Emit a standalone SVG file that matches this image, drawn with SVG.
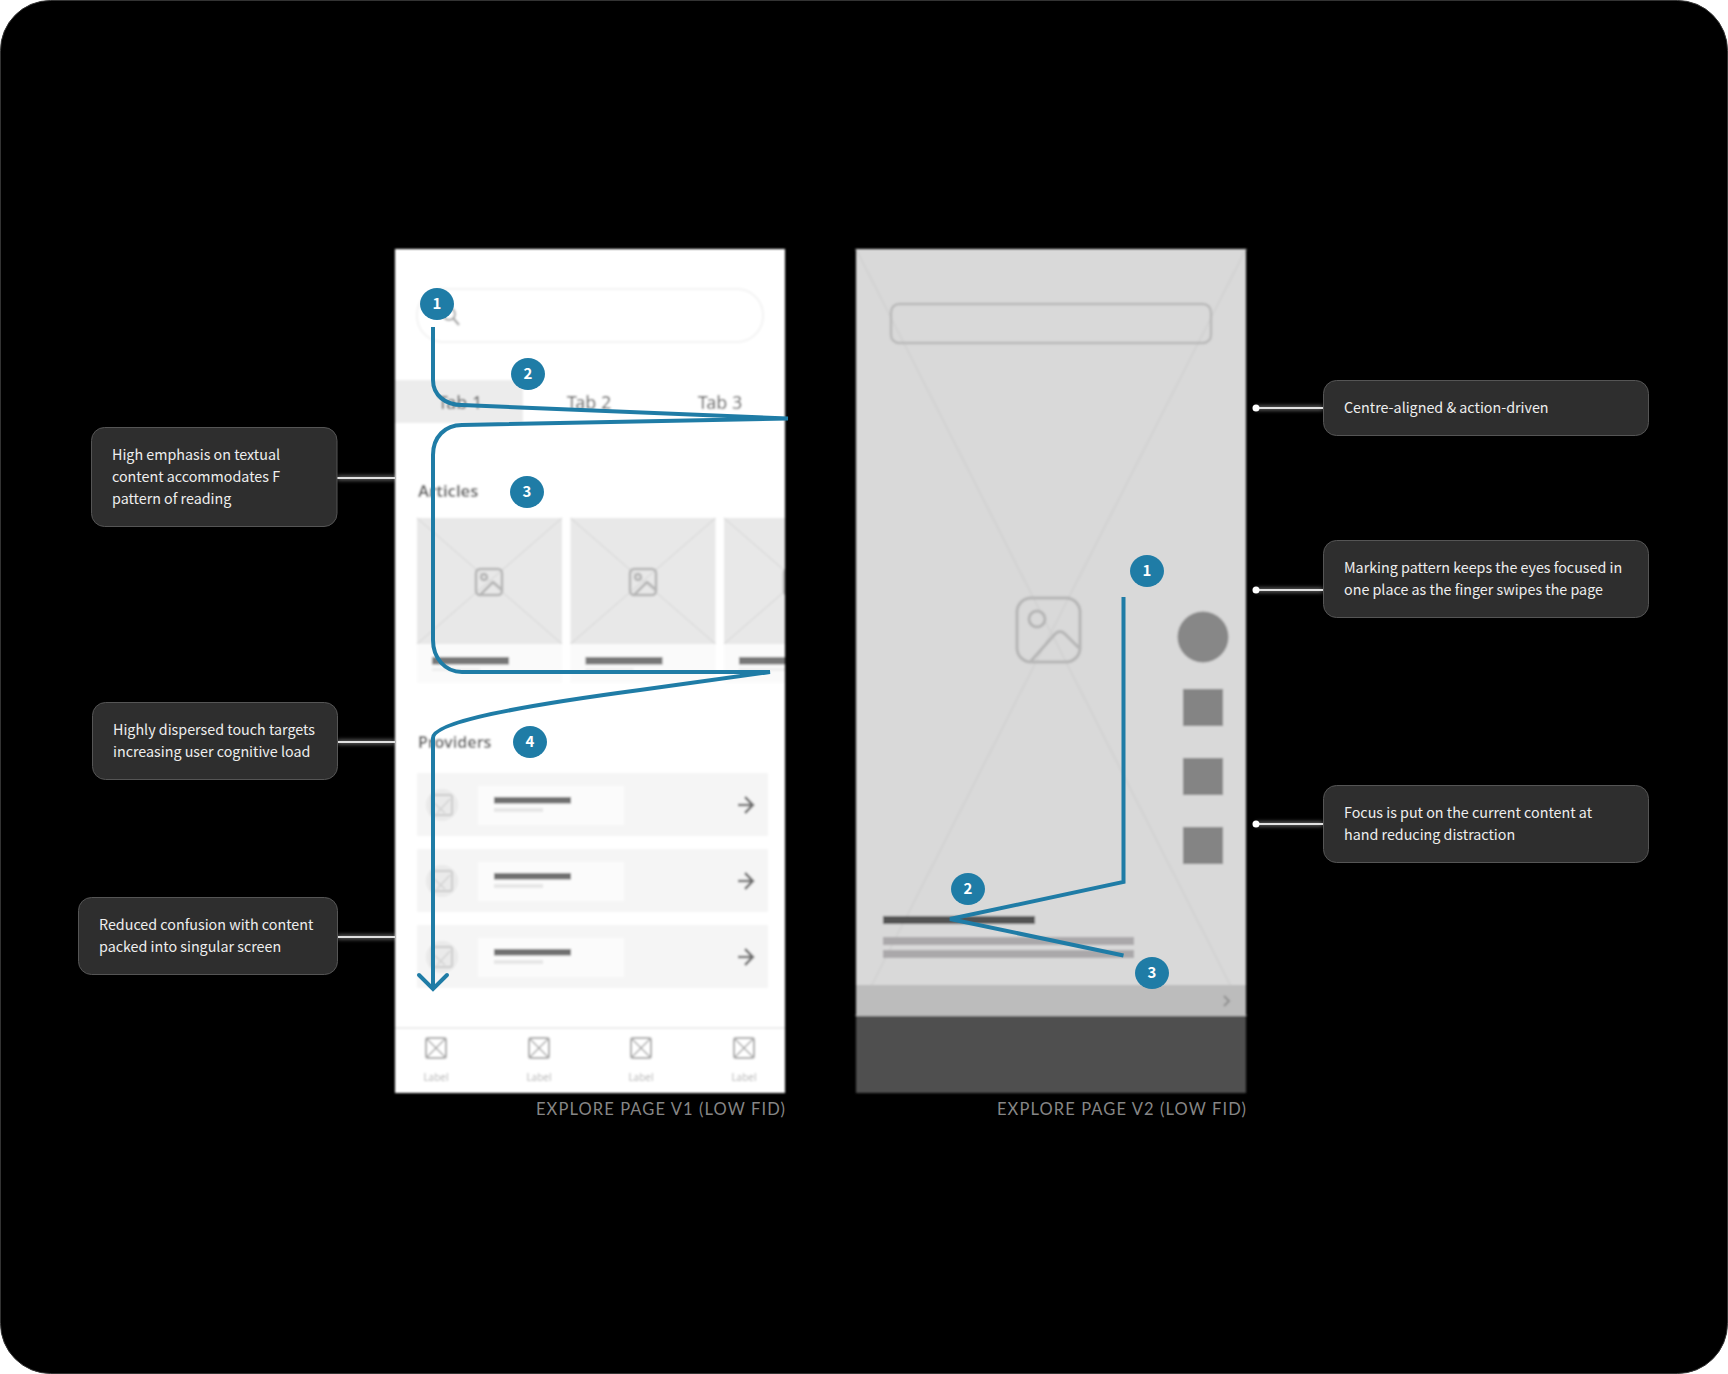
<svg xmlns="http://www.w3.org/2000/svg" xmlns:xlink="http://www.w3.org/1999/xlink" width="1728" height="1374" viewBox="0 0 1728 1374">
<style>
.note rect{fill:#2e2e2e;stroke:#555;stroke-width:1}
.note text{font:14.3px "Noto Sans CJK SC","Noto Sans",sans-serif;fill:#eee}
.badge ellipse{fill:#1f7ca6}
.badge text{font:bold 15px "Noto Sans CJK SC","Noto Sans",sans-serif;fill:#fff;text-anchor:middle}
.flow{fill:none;stroke:#1f7ca6;stroke-width:4}
.cap{font:16.5px Lato,"Noto Sans",sans-serif;fill:#868686;letter-spacing:1.1px;text-anchor:end}
.lead{stroke:#e0e0e0;stroke-width:2;fill:none}
.glow{stroke:#fff;stroke-width:4;fill:none;opacity:.45}
.wf{font-family:"Noto Sans",sans-serif;fill:#555}
.ic{fill:none;stroke:#b5b5b5;stroke-width:2.5;stroke-linejoin:round;stroke-linecap:round}
</style>
<defs>
<filter id="b" x="-5%" y="-5%" width="110%" height="110%"><feGaussianBlur stdDeviation="1.1"/></filter>
<filter id="g" x="-20%" y="-400%" width="140%" height="900%"><feGaussianBlur stdDeviation="2"/></filter>
<clipPath id="c1"><rect x="395" y="249" width="390" height="844"/></clipPath>
<g id="img"><rect x="-13" y="-13" width="26" height="26" rx="4" class="ic"/><circle cx="-5" cy="-5" r="3" class="ic"/><path d="M-9 13L4 0L13 8" class="ic"/></g>
<g id="xb"><rect x="-10" y="-10" width="20" height="20" rx="2" fill="none" stroke="#aaa" stroke-width="2"/><path d="M-9-9L9 9M9-9L-9 9" stroke="#aaa" stroke-width="1.5"/></g>
<g id="card"><rect width="145" height="126" fill="#e8e8e8"/><path d="M0 0L145 126M145 0L0 126" stroke="#dcdcdc" stroke-width="1.5"/><rect y="126" width="145" height="39" fill="#fafafa"/><rect x="15" y="139" width="77" height="7.5" fill="#777"/><rect x="15" y="150" width="48" height="3" fill="#eee"/></g>
<g id="row"><rect width="351" height="63" fill="#f5f5f5"/><circle cx="25" cy="32" r="16" fill="#eaeaea"/><rect x="15" y="22" width="20" height="20" rx="2" fill="none" stroke="#ccc" stroke-width="2"/><path d="M17 30L28 40M20 40L33 26" stroke="#d2d2d2" stroke-width="1.5"/><rect x="61" y="13" width="146" height="39" fill="#fbfbfb"/><rect x="77" y="24" width="77" height="6.5" fill="#6f6f6f"/><rect x="77" y="35" width="49" height="4" fill="#e6e6e6"/><path d="M321 32H336M328 24L336 32L328 40" fill="none" stroke="#707070" stroke-width="2.5"/></g>
</defs>
<rect width="1728" height="1374" fill="#fff"/>
<rect id="frame" x="0.5" y="0.5" width="1727" height="1373" rx="50" fill="#000" stroke="#333"/>

<g id="phone-v1">
<g filter="url(#b)">
<rect x="395" y="249" width="390" height="844" fill="#fff"/>
<g clip-path="url(#c1)">
<rect x="417" y="289" width="346" height="53" rx="26" fill="#fff" stroke="#f3f3f3" stroke-width="2"/>
<circle cx="449" cy="314" r="6" fill="none" stroke="#aaa" stroke-width="2"/><path d="M453 318L459 325" stroke="#aaa" stroke-width="2.5"/>
<rect x="395" y="380" width="128" height="43" fill="#ececec"/>
<text class="wf" x="460" y="409" font-size="18" text-anchor="middle">Tab 1</text>
<text class="wf" x="589" y="409" font-size="18" text-anchor="middle">Tab 2</text>
<text class="wf" x="720" y="409" font-size="18" text-anchor="middle">Tab 3</text>
<text class="wf" x="418" y="497" font-size="16.500" font-weight="600">Articles</text>
<use xlink:href="#card" x="417" y="518"/><use xlink:href="#card" x="570.500" y="518"/><use xlink:href="#card" x="724" y="518"/>
<use xlink:href="#img" x="489" y="582"/><use xlink:href="#img" x="643" y="582"/><use xlink:href="#img" x="797" y="582"/>
<text class="wf" x="418" y="748" font-size="16" font-weight="600">Providers</text>
<use xlink:href="#row" x="417" y="773"/><use xlink:href="#row" x="417" y="849"/><use xlink:href="#row" x="417" y="925"/>
<path d="M395 1028H785" stroke="#ececec" stroke-width="2"/>
<use xlink:href="#xb" x="436" y="1048"/><use xlink:href="#xb" x="539" y="1048"/><use xlink:href="#xb" x="641" y="1048"/><use xlink:href="#xb" x="744" y="1048"/>
<g font-family="Noto Sans,sans-serif" font-size="10" fill="#b4b4b4" text-anchor="middle"><text x="436" y="1081">Label</text><text x="539" y="1081">Label</text><text x="641" y="1081">Label</text><text x="744" y="1081">Label</text></g>
</g>
</g>
<text class="cap" x="786" y="1115">EXPLORE PAGE V1 (LOW FID)</text>
</g>

<g id="phone-v2">
<g filter="url(#b)">
<rect x="856" y="249" width="390" height="844" fill="#d9d9d9"/>
<path d="M856 249L1246 1016M1246 249L856 1016" stroke="#d0d0d0" stroke-width="1.5"/>
<rect x="891" y="304" width="320" height="39" rx="8" fill="none" stroke="#b9b9b9" stroke-width="2.5"/>
<g fill="none" stroke="#b5b5b5" stroke-width="3"><rect x="1017" y="598" width="63" height="64" rx="14"/><circle cx="1037" cy="619" r="8"/><path d="M1031 661L1055 634Q1060 629 1065 634L1079 648"/></g>
<circle cx="1203" cy="637" r="25.500" fill="#878787"/>
<rect x="1183" y="689" width="40" height="37" fill="#848484"/><rect x="1183" y="758" width="40" height="37" fill="#848484"/><rect x="1183" y="827" width="40" height="37" fill="#848484"/>
<rect x="883" y="916" width="152" height="8" fill="#525252"/>
<rect x="883" y="937" width="251" height="8" fill="#aaa8aa"/><rect x="883" y="950" width="251" height="8" fill="#aaa8aa"/>
<rect x="856" y="985" width="390" height="31" fill="#bcbcbc"/>
<path d="M1224 996L1229 1001L1224 1006" fill="none" stroke="#8e8e8e" stroke-width="2"/>
<rect x="856" y="1016" width="390" height="77" fill="#505050"/>
</g>
<text class="cap" x="1247" y="1115">EXPLORE PAGE V2 (LOW FID)</text>
</g>

<g id="connectors">
<path class="glow" filter="url(#g)" d="M337 478H395M337 742H395M337 937H395M1256 408H1323M1256 590H1323M1256 824H1323"/>
<path class="lead" d="M337 478H395M337 742H395M337 937H395M1256 408H1323M1256 590H1323M1256 824H1323"/>
<g fill="#fff"><circle cx="1256" cy="408" r="3.500"/><circle cx="1256" cy="590" r="3.500"/><circle cx="1256" cy="824" r="3.500"/></g>
<path class="flow" d="M433 327V380C433 395 445 405 462 405L788 418.500L462 425C445 425 433 437 433 455V640C433 658 445 672 462 672H770L640 690C520 706 433 722 433 738V988"/>
<path class="flow" stroke-linecap="round" d="M419 975L433 989L447 975"/>
<path class="flow" d="M1123.500 597V882L950 919L1123.500 955.500"/>
</g>

<g id="badge-v1-1" class="badge"><ellipse cx="437" cy="304" rx="17" ry="16"/><text x="437" y="309">1</text></g>
<g id="badge-v1-2" class="badge"><ellipse cx="528" cy="374" rx="17" ry="16"/><text x="528" y="379">2</text></g>
<g id="badge-v1-3" class="badge"><ellipse cx="527" cy="492" rx="17" ry="16"/><text x="527" y="497">3</text></g>
<g id="badge-v1-4" class="badge"><ellipse cx="530" cy="742" rx="17" ry="16"/><text x="530" y="747">4</text></g>
<g id="badge-v2-1" class="badge"><ellipse cx="1147" cy="571" rx="17" ry="16"/><text x="1147" y="576">1</text></g>
<g id="badge-v2-2" class="badge"><ellipse cx="968" cy="889" rx="17" ry="16"/><text x="968" y="894">2</text></g>
<g id="badge-v2-3" class="badge"><ellipse cx="1152" cy="973" rx="17" ry="16"/><text x="1152" y="978">3</text></g>

<g id="note-1" class="note"><rect x="91.500" y="427.500" width="245.500" height="99" rx="13"/><text x="112" y="460">High emphasis on textual</text><text x="112" y="482">content accommodates F</text><text x="112" y="504">pattern of reading</text></g>
<g id="note-2" class="note"><rect x="92.500" y="702.500" width="245" height="77" rx="13"/><text x="113" y="735">Highly dispersed touch targets</text><text x="113" y="757">increasing user cognitive load</text></g>
<g id="note-3" class="note"><rect x="78.500" y="897.500" width="259" height="77" rx="13"/><text x="99" y="930">Reduced confusion with content</text><text x="99" y="952">packed into singular screen</text></g>
<g id="note-4" class="note"><rect x="1323.500" y="380.500" width="325" height="55" rx="13"/><text x="1344" y="413">Centre-aligned &amp; action-driven</text></g>
<g id="note-5" class="note"><rect x="1323.500" y="540.500" width="325" height="77" rx="13"/><text x="1344" y="573">Marking pattern keeps the eyes focused in</text><text x="1344" y="595">one place as the finger swipes the page</text></g>
<g id="note-6" class="note"><rect x="1323.500" y="785.500" width="325" height="77" rx="13"/><text x="1344" y="818">Focus is put on the current content at</text><text x="1344" y="840">hand reducing distraction</text></g>
</svg>
